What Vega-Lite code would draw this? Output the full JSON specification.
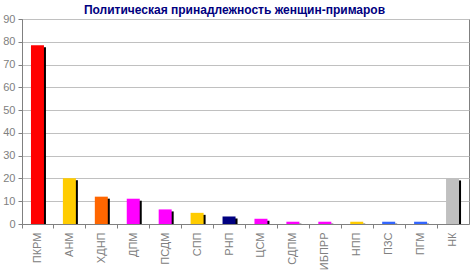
{
  "$schema": "https://vega.github.io/schema/vega-lite/v6.json",
  "width": 447,
  "height": 205,
  "autosize": {"type": "none"},
  "padding": {"left": 22, "top": 19, "right": 1, "bottom": 46},
  "background": "white",
  "title": {
    "text": "Политическая принадлежность женщин-примаров",
    "font": "Liberation Sans",
    "fontSize": 12,
    "fontWeight": "bold",
    "color": "#000080",
    "anchor": "middle",
    "frame": "group",
    "offset": 5,
    "dy": 9,
    "dx": -11
  },
  "config": {
    "view": {"stroke": "#808080", "strokeWidth": 1},
    "axis": {
      "labelFont": "Liberation Sans",
      "labelFontSize": 11,
      "labelColor": "#808080",
      "domainColor": "#808080",
      "tickColor": "#808080",
      "gridColor": "#C0C0C0",
      "title": null
    }
  },
  "data": {
    "values": [
      {"party": "ПКРМ", "pct": 78.5, "color": "#FF0000"},
      {"party": "АНМ", "pct": 20.1, "color": "#FFCC00"},
      {"party": "ХДНП", "pct": 12.0, "color": "#FF6600"},
      {"party": "ДПМ", "pct": 11.1, "color": "#FF00FF"},
      {"party": "ПСДМ", "pct": 6.4, "color": "#FF00FF"},
      {"party": "СПП", "pct": 4.9, "color": "#FFCC00"},
      {"party": "РНП", "pct": 3.3, "color": "#000080"},
      {"party": "ЦСМ", "pct": 2.3, "color": "#FF00FF"},
      {"party": "СДПМ", "pct": 1.0, "color": "#FF00FF"},
      {"party": "ИБПРР", "pct": 1.0, "color": "#FF00FF"},
      {"party": "НПП", "pct": 1.0, "color": "#FFCC00"},
      {"party": "ПЗС", "pct": 1.0, "color": "#3366FF"},
      {"party": "ПГМ", "pct": 1.0, "color": "#3366FF"},
      {"party": "НК", "pct": 20.0, "color": "#C0C0C0"}
    ]
  },
  "encoding": {
    "x": {
      "field": "party",
      "type": "nominal",
      "sort": null,
      "scale": {"paddingInner": 0, "paddingOuter": 0},
      "axis": {
        "labelAngle": -90,
        "labelAlign": "right",
        "labelBaseline": "middle",
        "tickSize": 4,
        "labelPadding": 4,
        "bandPosition": 0,
        "ticks": true,
        "grid": false
      }
    },
    "y": {
      "field": "pct",
      "type": "quantitative",
      "scale": {"domain": [0, 90], "nice": false},
      "axis": {
        "values": [0, 10, 20, 30, 40, 50, 60, 70, 80, 90],
        "tickSize": 4,
        "labelPadding": 3,
        "grid": true
      }
    }
  },
  "layer": [
    {
      "mark": {"type": "bar", "size": 13, "color": "#000000", "xOffset": 1.5, "yOffset": 2, "clip": true}
    },
    {
      "mark": {"type": "bar", "size": 13, "xOffset": -0.5},
      "encoding": {
        "color": {"field": "color", "type": "nominal", "scale": null}
      }
    }
  ]
}
